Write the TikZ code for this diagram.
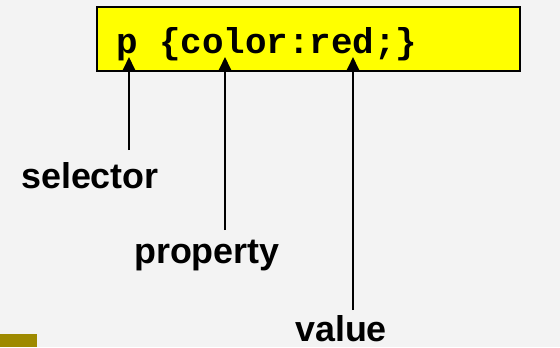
\documentclass[tikz,border=0pt]{standalone}
\usepackage{fontspec}
\setmainfont{Liberation Sans}
\newfontfamily\codefont{Liberation Mono}
\usetikzlibrary{arrows.meta}
\definecolor{bgcol}{HTML}{F3F3F3}
\definecolor{boxyellow}{HTML}{FFFF00}
\definecolor{olivecol}{HTML}{9E8A00}
\begin{document}
\begin{tikzpicture}[x=1bp,y=-1bp,
  lbl/.style={anchor=base west,inner sep=0pt,font=\fontsize{36}{40}\selectfont\bfseries},
  pointer/.style={line width=2bp,-{Triangle[width=12bp,length=13bp]}}]
\fill[bgcol] (0,0) rectangle (560,347);
\useasboundingbox (0,0) rectangle (560,347);
\fill[olivecol] (0,334) rectangle (37,347);
\node[draw=black,line width=1.6bp,fill=boxyellow,minimum width=423bp,minimum height=64bp,anchor=north west,inner sep=0pt] (box) at (96,6) {};
\node[anchor=base west,inner sep=0pt,font=\codefont\fontsize{36}{40}\selectfont\bfseries] (code) at (116,53) {p \{color:red;\}};
\node[lbl] (sel) at (21,188) {selector};
\node[lbl] (prop) at (134,263) {property};
\node[lbl] (val) at (295,341) {value};
\coordinate (s0) at (129,150);
\coordinate (s1) at (129,57);
\coordinate (p0) at (225,230);
\coordinate (p1) at (225,57);
\coordinate (v0) at (353,310);
\coordinate (v1) at (353,57);
\draw[pointer] (s0) -- (s1);
\draw[pointer] (p0) -- (p1);
\draw[pointer] (v0) -- (v1);
\end{tikzpicture}
\end{document}
